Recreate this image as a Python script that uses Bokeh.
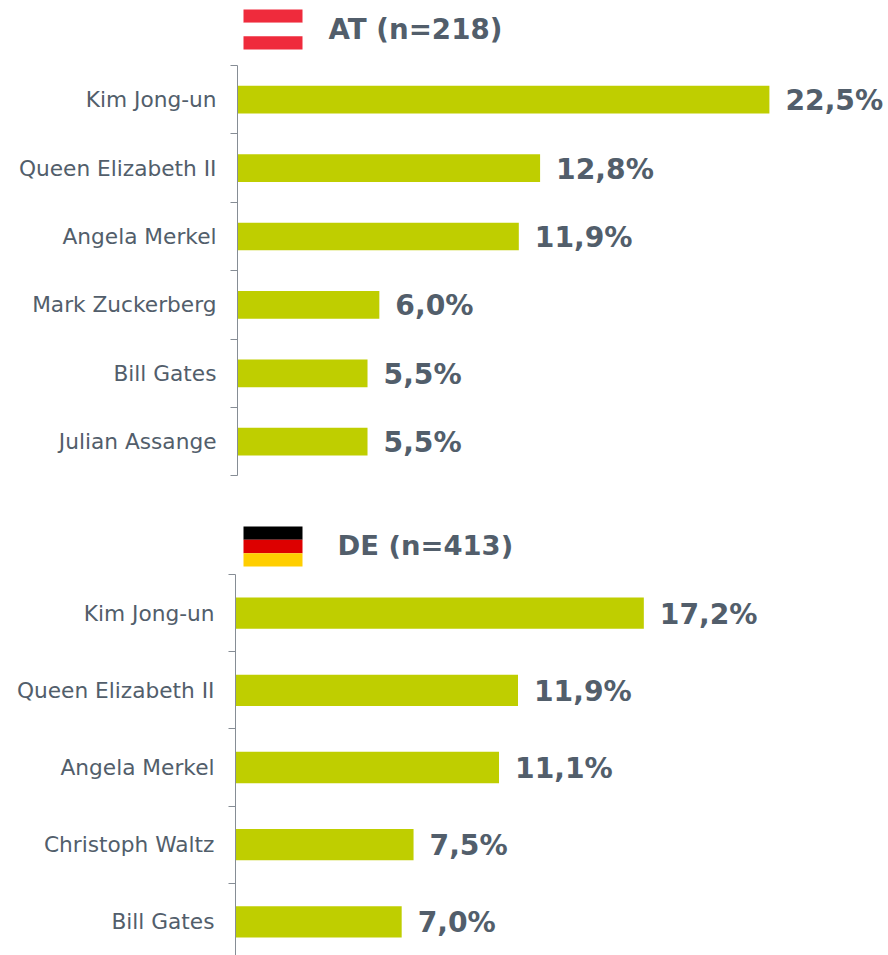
from bokeh.plotting import figure
from bokeh.layouts import column, row
from bokeh.models import FixedTicker, LinearAxis, Range1d
from bokeh.core.properties import value
from bokeh.embed import file_html
from bokeh.resources import INLINE

at_title = "AT (n=218)"
at_names = ["Kim Jong-un", "Queen Elizabeth II", "Angela Merkel", "Mark Zuckerberg", "Bill Gates", "Julian Assange"]
at_values = [22.5, 12.8, 11.9, 6.0, 5.5, 5.5]
at_flag = ["#EF2B3C", "#FFFFFF", "#EF2B3C"]

de_title = "DE (n=413)"
de_names = ["Kim Jong-un", "Queen Elizabeth II", "Angela Merkel", "Christoph Waltz", "Bill Gates"]
de_values = [17.2, 11.9, 11.1, 7.5, 7.0]
de_flag = ["#000000", "#DD0000", "#FFCE00"]

BAR = "#BFCE00"
TEXT = "#525E6B"
AXIS = "#868D95"
FONT = "DejaVu Sans"
W = 888


def panel(names, vals, title, flag, top, bottom, ax_x, ax_top, band, px_per_unit,
          title_x, title_y, flag_top, flag_bottom, title_size):
    # top/bottom and the other layout numbers are page pixels
    n = len(names)
    y0 = ax_top + band / 2
    to_y = lambda py: (py - y0) / band
    to_x = lambda px: (px - ax_x) / px_per_unit
    p = figure(width=W, height=bottom - top, output_backend="svg", toolbar_location=None,
               x_axis_type=None, y_axis_type=None,
               x_range=Range1d(0, to_x(W)),
               y_range=Range1d(to_y(bottom), to_y(top)),
               min_border_left=ax_x, min_border_right=0, min_border_top=0, min_border_bottom=0)
    p.outline_line_color = None
    p.xgrid.visible = False
    p.ygrid.visible = False
    pos = list(range(n))
    ax = LinearAxis(
        ticker=FixedTicker(ticks=pos, minor_ticks=[i - 0.5 for i in range(n + 1)]),
        major_label_overrides={i: s for i, s in enumerate(names)},
        major_tick_in=0, major_tick_out=0, minor_tick_in=0, minor_tick_out=7,
        minor_tick_line_color=AXIS, axis_line_color=AXIS, axis_line_width=1,
        major_label_standoff=14, major_label_text_font=FONT, major_label_text_color=TEXT,
        major_label_text_font_size="21.7px", bounds=(-0.5, n - 0.5))
    p.add_layout(ax, "left")
    p.hbar(y=pos, left=0, right=vals, height=0.405, fill_color=BAR, line_color=None)
    p.text(x=vals, y=pos, text=[f"{v:.1f}%".replace(".", ",") for v in vals], x_offset=16, y_offset=1,
           text_font=value(FONT), text_font_style="bold", text_font_size="28.2px",
           text_color=TEXT, text_align="left", text_baseline="middle")
    # flag stripes
    h = (flag_bottom - flag_top) / len(flag)
    for i, c in enumerate(flag):
        p.quad(left=to_x(243), right=to_x(302), top=to_y(flag_top + i * h), bottom=to_y(flag_top + (i + 1) * h),
               fill_color=c, line_color=None)
    p.text(x=[to_x(title_x)], y=[to_y(title_y)], text=[title],
           text_font=value(FONT), text_font_style="bold", text_font_size=title_size,
           text_color=TEXT, text_align="left", text_baseline="middle")
    return p


p1 = panel(at_names, at_values, at_title, at_flag, 0, 505, 237, 65, 68.4, 23.64, 328, 28.5, 9, 49, "27.7px")
p2 = panel(de_names, de_values, de_title, de_flag, 505, 955, 235, 574, 77.2, 23.74, 337, 544.5, 526, 566, "27.4px")
page = column(row(p1), row(p2), spacing=0)
open("out.html", "w").write(file_html(page, INLINE))
